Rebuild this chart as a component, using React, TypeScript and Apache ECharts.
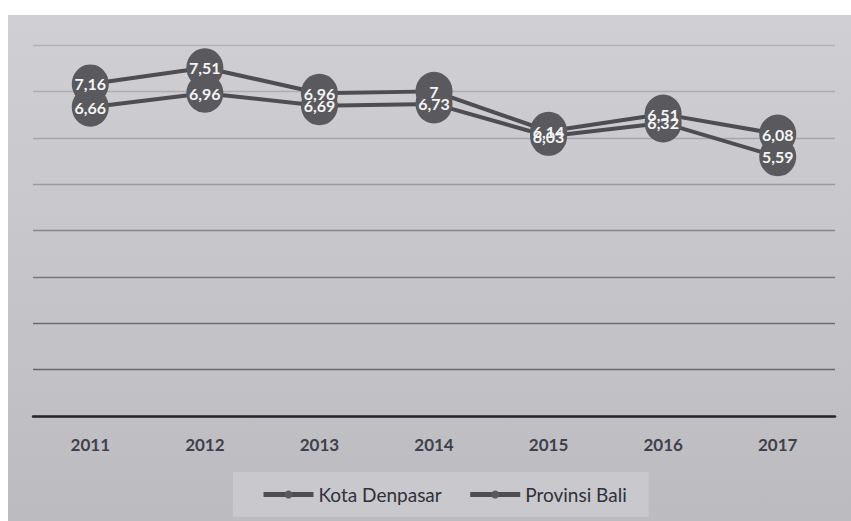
import React, { useEffect, useRef } from "react";
import * as echarts from "echarts";

const years = ["2011", "2012", "2013", "2014", "2015", "2016", "2017"];
const kotaDenpasar = [7.16, 7.51, 6.96, 7.0, 6.14, 6.51, 6.08];
const provinsiBali = [6.66, 6.96, 6.69, 6.73, 6.03, 6.32, 5.59];
const gridColors = ["#66666c", "#66666c", "#6c6c72", "#76767c", "#85858b", "#9a9aa0", "#a6a6ac", "#acacb2", "#b2b2b8"];

const fmt = (v: number) => String(v).replace(".", ",");

export default function App() {
  const ref = useRef<HTMLDivElement>(null);
  useEffect(() => {
    if (!ref.current) return;
    const chart = echarts.init(ref.current, null, { renderer: "svg" });
    const mkSeries = (name: string, data: number[]) => ({
      name,
      type: "line",
      data,
      symbol: "circle",
      symbolSize: [37, 39],
      lineStyle: { color: "#4e4e52", width: 4 },
      itemStyle: { color: "#5a5a5e" },
      label: {
        show: true,
        position: "inside",
        color: "#f4f4f4",
        fontFamily: "Lato",
        fontWeight: "bold",
        fontSize: 16,
        formatter: (p: any) => fmt(p.value),
      },
    });
    chart.setOption({
      animation: false,
      backgroundColor: "#ffffff",
      graphic: [
        {
          type: "rect",
          z: -10,
          shape: { x: 8, y: 15, width: 843, height: 506 },
          style: {
            fill: new echarts.graphic.LinearGradient(0, 0, 0, 1, [
              { offset: 0, color: "#d0d0d4" },
              { offset: 1, color: "#bcbcc0" },
            ]),
          },
        },
      ],
      grid: { left: 33, right: 16, top: 45, bottom: 105 },
      xAxis: {
        type: "category",
        data: years,
        boundaryGap: true,
        axisLine: { lineStyle: { color: "#262630", width: 2.5 } },
        axisTick: { show: false },
        axisLabel: {
          color: "#40404c",
          fontFamily: "Lato",
          fontWeight: "bold",
          fontSize: 17,
          margin: 20,
        },
      },
      yAxis: {
        type: "value",
        min: 0,
        max: 8,
        interval: 1,
        axisLabel: { show: false },
        axisLine: { show: false },
        axisTick: { show: false },
        splitLine: { lineStyle: { color: gridColors, width: 1.3 } },
      },
      legend: {
        bottom: 4,
        left: 233,
        data: ["Kota Denpasar", "Provinsi Bali"],
        itemWidth: 50,
        itemHeight: 10,
        itemGap: 26,
        padding: [13, 22, 13, 28],
        backgroundColor: "#c9c9cd",
        lineStyle: { width: 5 },
        textStyle: { color: "#30303a", fontFamily: "Lato", fontSize: 19 },
      },
      series: [mkSeries("Kota Denpasar", kotaDenpasar), mkSeries("Provinsi Bali", provinsiBali)],
    });
    return () => chart.dispose();
  }, []);
  return (
    <div
      ref={ref}
      style={{ position: "fixed", left: 0, top: 0, width: 851, height: 521 }}
    />
  );
}
